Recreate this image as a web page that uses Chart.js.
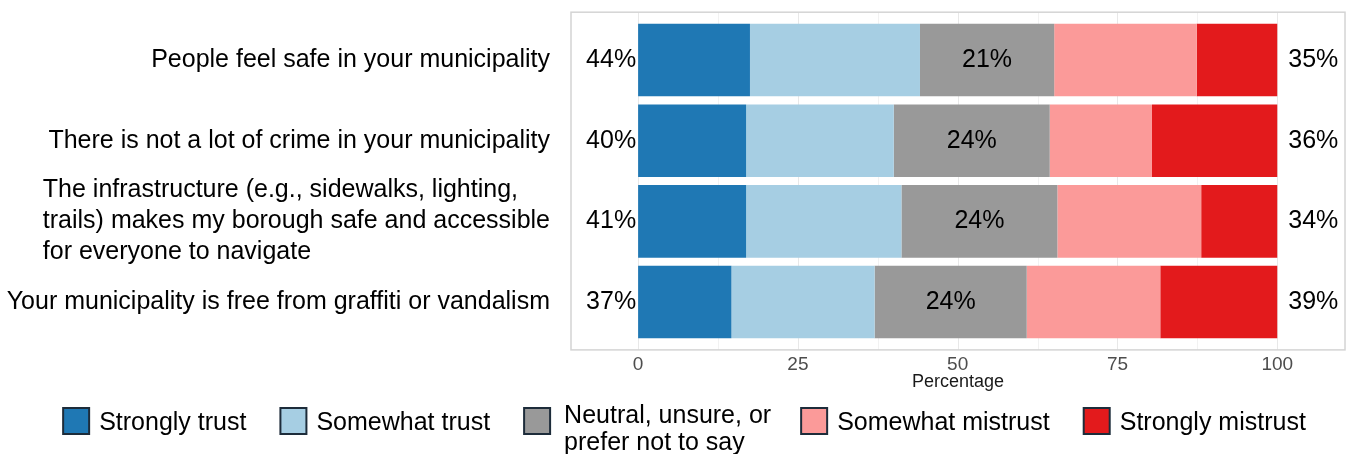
<!DOCTYPE html>
<html>
<head>
<meta charset="utf-8">
<script src="https://cdn.jsdelivr.net/npm/chart.js@4.4.0/dist/chart.umd.min.js"></script>
<style>
  html, body { margin: 0; padding: 0; background: #fff; }
  canvas { display: block; }
</style>
</head>
<body>
<canvas id="chart" width="1349" height="454"></canvas>
<script>
// statements (one array per category, one entry per text line)
const statements = [
  ['People feel safe in your municipality'],
  ['There is not a lot of crime in your municipality'],
  ['The infrastructure (e.g., sidewalks, lighting,', 'trails) makes my borough safe and accessible', 'for everyone to navigate'],
  ['Your municipality is free from graffiti or vandalism']
];

const seriesNames = ['Strongly trust', 'Somewhat trust', ['Neutral, unsure, or', 'prefer not to say'], 'Somewhat mistrust', 'Strongly mistrust'];
const seriesColors = ['#1f78b4', '#a6cee3', '#999999', '#fb9a99', '#e31a1c'];

// percentages
const stronglyTrust   = [17.5, 16.9, 16.9, 14.6];
const somewhatTrust   = [26.6, 23.1, 24.3, 22.4];
const neutral         = [21.0, 24.4, 24.4, 23.8];
const somewhatMistrust = [22.3, 16.0, 22.5, 20.9];
const stronglyMistrust = [12.6, 19.6, 11.9, 18.3];

const xTicks = [0, 25, 50, 75, 100];
const xGrid = [0, 12.5, 25, 37.5, 50, 62.5, 75, 87.5, 100];
const xMin = -10.5;
const xMax = 110.6;

const FONT = "'Liberation Sans', Arial, sans-serif";
const PANEL_PAD = 7.5;

const seriesValues = [stronglyTrust, somewhatTrust, neutral, somewhatMistrust, stronglyMistrust];

const labelsPlugin = {
  id: 'labels',
  beforeDatasetsDraw(chart) {
    const { ctx, chartArea: a, scales: { x } } = chart;
    const top = a.top - PANEL_PAD, bottom = a.bottom + PANEL_PAD;
    ctx.save();
    ctx.lineWidth = 1;
    xGrid.forEach(v => {
      const px = Math.round(x.getPixelForValue(v)) + 0.5;
      ctx.strokeStyle = v % 25 === 0 ? '#e8e8e8' : '#f2f2f2';
      ctx.beginPath();
      ctx.moveTo(px, top);
      ctx.lineTo(px, bottom);
      ctx.stroke();
    });
    ctx.strokeStyle = '#d4d4d4';
    ctx.lineWidth = 1.5;
    ctx.strokeRect(a.left, top, a.right - a.left, bottom - top);
    ctx.restore();
  },
  afterDatasetsDraw(chart) {
    const { ctx, scales: { x } } = chart;
    const bars = chart.getDatasetMeta(2).data;
    ctx.save();
    ctx.fillStyle = '#000';
    ctx.textBaseline = 'middle';
    ctx.font = '25px ' + FONT;

    bars.forEach((bar, i) => {
      const trust = Math.round(stronglyTrust[i] + somewhatTrust[i]);
      const mistrust = Math.round(somewhatMistrust[i] + stronglyMistrust[i]);
      ctx.textAlign = 'right';
      ctx.fillText(trust + '%', x.getPixelForValue(0) - 2, bar.y);
      ctx.textAlign = 'left';
      ctx.fillText(mistrust + '%', x.getPixelForValue(100) + 11, bar.y);
      ctx.textAlign = 'center';
      ctx.fillText(Math.round(neutral[i]) + '%', (bar.x + bar.base) / 2, bar.y);

      // category label: block right-aligned, lines left-aligned
      const lines = statements[i];
      const w = Math.max(...lines.map(l => ctx.measureText(l).width));
      const left = 550 - w;
      const lh = 31;
      const y0 = bar.y - (lines.length - 1) * lh / 2;
      ctx.textAlign = 'left';
      lines.forEach((l, k) => ctx.fillText(l, left, y0 + k * lh));
    });

    // legend
    const box = 26, gapText = 10, gapItem = 34, legendY = 421;
    const items = seriesNames.map((n, i) => {
      const lines = Array.isArray(n) ? n : [n];
      const tw = Math.max(...lines.map(l => ctx.measureText(l).width));
      return { lines, tw, color: seriesColors[i] };
    });
    const total = items.reduce((s, it) => s + box + gapText + it.tw, 0) + gapItem * (items.length - 1);
    let cx = chart.width / 2 + 10 - total / 2;
    items.forEach(it => {
      ctx.fillStyle = it.color;
      ctx.fillRect(cx, legendY - box / 2, box, box);
      ctx.strokeStyle = '#1d2c3a';
      ctx.lineWidth = 2;
      ctx.strokeRect(cx, legendY - box / 2, box, box);
      ctx.fillStyle = '#000';
      ctx.textAlign = 'left';
      if (it.lines.length === 1) {
        ctx.fillText(it.lines[0], cx + box + gapText, legendY + 2);
      } else {
        ctx.fillText(it.lines[0], cx + box + gapText + 4, legendY - 5);
        ctx.fillText(it.lines[1], cx + box + gapText + 4, legendY + 22);
      }
      cx += box + gapText + it.tw + gapItem;
    });
    ctx.restore();
  }
};

new Chart(document.getElementById('chart'), {
  type: 'bar',
  data: {
    labels: statements,
    datasets: seriesValues.map((vals, i) => ({
      label: Array.isArray(seriesNames[i]) ? seriesNames[i].join(' ') : seriesNames[i],
      data: vals,
      backgroundColor: seriesColors[i],
      borderWidth: 0,
      barPercentage: 0.9,
      categoryPercentage: 1.0
    }))
  },
  options: {
    indexAxis: 'y',
    responsive: false,
    animation: false,
    devicePixelRatio: 1,
    layout: { padding: { left: 571, right: 4, top: 19.7, bottom: 61.6 } },
    plugins: {
      legend: { display: false },
      tooltip: { enabled: false }
    },
    scales: {
      x: {
        stacked: true,
        min: xMin,
        max: xMax,
        afterBuildTicks: (scale) => { scale.ticks = xTicks.map(v => ({ value: v })); },
        afterFit: (scale) => { scale.height = 50; },
        grid: { display: false },
        border: { display: false },
        ticks: {
          autoSkip: false,
          maxRotation: 0,
          padding: 3,
          color: '#4d4d4d',
          font: { family: FONT, size: 19 }
        },
        title: {
          display: true,
          text: 'Percentage',
          color: '#1a1a1a',
          padding: { top: 0, bottom: 0 },
          font: { family: FONT, size: 18 }
        }
      },
      y: {
        stacked: true,
        display: false,
        offset: true
      }
    }
  },
  plugins: [labelsPlugin]
});
</script>
</body>
</html>
